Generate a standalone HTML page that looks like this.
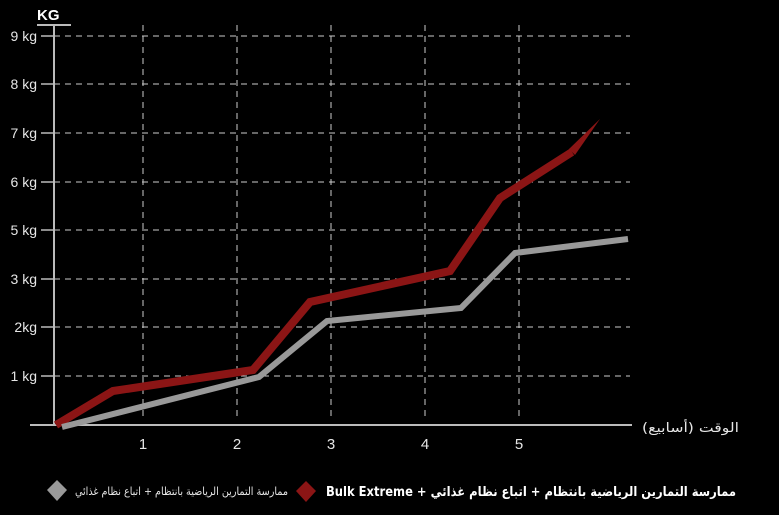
<!DOCTYPE html><html><head><style>body{margin:0;background:#000}svg{display:block}text{font-family:"Liberation Sans","DejaVu Sans",sans-serif;fill:#e6e6e6}</style></head><body>
<svg width="779" height="515" viewBox="0 0 779 515">
<g stroke="#ccc" stroke-width="1" stroke-dasharray="6,5" fill="none">
<line x1="54" y1="36" x2="630" y2="36"/><line x1="54" y1="84" x2="630" y2="84"/><line x1="54" y1="133" x2="630" y2="133"/><line x1="54" y1="182" x2="630" y2="182"/><line x1="54" y1="230" x2="630" y2="230"/><line x1="54" y1="279" x2="630" y2="279"/><line x1="54" y1="327" x2="630" y2="327"/><line x1="54" y1="376" x2="630" y2="376"/>
<line x1="143" y1="25" x2="143" y2="418"/><line x1="237" y1="25" x2="237" y2="418"/><line x1="331" y1="25" x2="331" y2="418"/><line x1="425" y1="25" x2="425" y2="418"/><line x1="519" y1="25" x2="519" y2="418"/>
</g>
<g stroke="#bbb" stroke-width="2"><line x1="54" y1="25" x2="54" y2="426"/><line x1="37" y1="25" x2="71" y2="25"/><line x1="30" y1="425" x2="632" y2="425"/></g>
<g stroke="#bbb" stroke-width="1.5"><line x1="41" y1="36" x2="54" y2="36"/><line x1="41" y1="84" x2="54" y2="84"/><line x1="41" y1="133" x2="54" y2="133"/><line x1="41" y1="182" x2="54" y2="182"/><line x1="41" y1="230" x2="54" y2="230"/><line x1="41" y1="279" x2="54" y2="279"/><line x1="41" y1="327" x2="54" y2="327"/><line x1="41" y1="376" x2="54" y2="376"/></g>
<text x="37" y="20" font-size="15" font-weight="bold" style="fill:#fff">KG</text>
<g font-size="14" text-anchor="end"><text x="37" y="41">9 kg</text><text x="37" y="89">8 kg</text><text x="37" y="138">7 kg</text><text x="37" y="187">6 kg</text><text x="37" y="235">5 kg</text><text x="37" y="284">3 kg</text><text x="37" y="332">2kg</text><text x="37" y="381">1 kg</text></g>
<g font-size="15" text-anchor="middle"><text x="143" y="449">1</text><text x="237" y="449">2</text><text x="331" y="449">3</text><text x="425" y="449">4</text><text x="519" y="449">5</text></g>
<text x="642" y="432" font-size="13" textLength="97" lengthAdjust="spacingAndGlyphs" style="font-family:'DejaVu Sans',sans-serif">الوقت (أسابيع)</text>
<polyline points="56,425 113,391 253,370 310,302 450,271 500,198 572,152" fill="none" stroke="#8b1515" stroke-width="8" stroke-linejoin="miter"/>
<polygon points="55,425 113,389 113,393" fill="#8b1515"/>
<polygon points="569,149 600,119 575,155" fill="#8b1515"/>
<polyline points="62,427 259,377 327,321 461,308 515,253 628,239" fill="none" stroke="#999" stroke-width="6"/>
<polygon points="47,490 57,480 67,490 57,501" fill="#999"/>
<text x="75" y="495" font-size="11" textLength="213" lengthAdjust="spacingAndGlyphs" style="font-family:'DejaVu Sans',sans-serif">ممارسة التمارين الرياضية بانتظام + اتباع نظام غذائي</text>
<polygon points="296,491 306,481 316,491 306,502" fill="#8b1515"/>
<text x="326" y="496" font-size="13" font-weight="bold" textLength="410" lengthAdjust="spacingAndGlyphs" style="fill:#fff;font-family:'DejaVu Sans',sans-serif">Bulk Extreme + ممارسة التمارين الرياضية بانتظام + اتباع نظام غذائي</text>
</svg></body></html>
